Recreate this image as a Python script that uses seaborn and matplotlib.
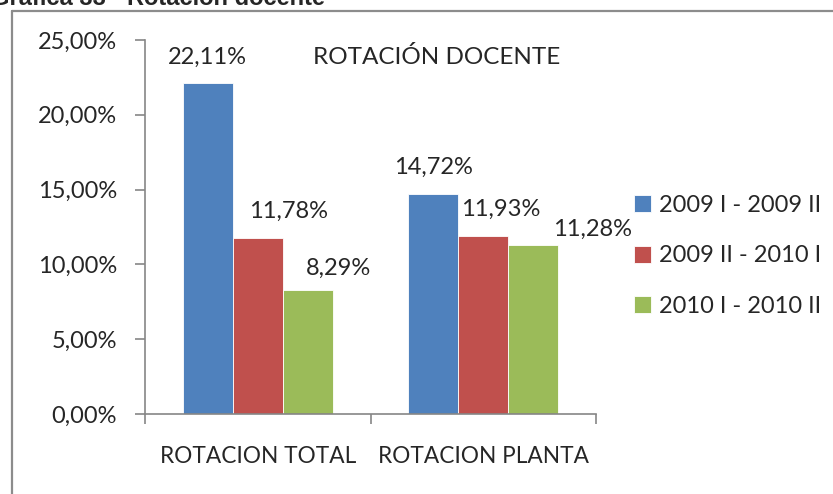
import matplotlib
matplotlib.use("Agg")
import matplotlib.pyplot as plt
from matplotlib.lines import Line2D
from matplotlib.ticker import FixedLocator, FuncFormatter
import pandas as pd
import seaborn as sns

# datos de la grafica
categorias = ["ROTACION TOTAL", "ROTACION PLANTA"]
periodos = ["2009 I - 2009 II", "2009 II - 2010 I", "2010 I - 2010 II"]
rot_2009_1 = [22.11, 14.72]
rot_2009_2 = [11.78, 11.93]
rot_2010_1 = [8.29, 11.28]
colores = ["#4F81BD", "#C0504D", "#9BBB59"]

df = pd.DataFrame({
    "categoria": categorias * 3,
    "periodo": [p for p in periodos for _ in categorias],
    "valor": rot_2009_1 + rot_2009_2 + rot_2010_1,
})

sns.set_style("white")
plt.rcParams["font.family"] = ["Lato", "DejaVu Sans"]

fig = plt.figure(figsize=(8.33, 4.94), dpi=100)
ax = fig.add_axes([145 / 833, 1 - 414 / 494, (596 - 145) / 833, (414 - 40) / 494])

sns.barplot(data=df, x="categoria", y="valor", hue="periodo", hue_order=periodos,
            palette=colores, width=0.667, saturation=1, ax=ax, legend=True,
            edgecolor="white", linewidth=0.6)

ax.set_ylim(0, 25)
ax.set_xlim(-0.5, 1.5)
ax.set_yticks([0, 5, 10, 15, 20, 25])
ax.yaxis.set_major_formatter(FuncFormatter(lambda v, p: f"{v:.2f}".replace(".", ",") + "%"))
ax.tick_params(axis="y", labelsize=17, length=7, width=1.2, color="#868686", pad=13, left=True)

# marcas entre categorias, etiquetas en el centro
ax.xaxis.set_major_locator(FixedLocator([-0.5, 0.5, 1.5]))
ax.xaxis.set_minor_locator(FixedLocator([0, 1]))
ax.set_xticklabels([], minor=False)
ax.set_xticklabels(categorias, minor=True)
ax.tick_params(axis="x", which="major", length=7, width=1.2, color="#868686", bottom=True)
ax.tick_params(axis="x", which="minor", length=0, labelsize=16.3, pad=23)
ax.set_xlabel("")
ax.set_ylabel("")

sns.despine(ax=ax)
for s in ["left", "bottom"]:
    ax.spines[s].set_color("#868686")
    ax.spines[s].set_linewidth(1.2)

# etiquetas de datos (desplazamientos en pixeles)
desplaz = [[(0, 26), (0, 26)], [(31, 26), (17, 26)], [(31, 22), (59, 16)]]
for cont, offs in zip(ax.containers, desplaz):
    for bar, (dx, dy) in zip(cont, offs):
        v = bar.get_height()
        ax.annotate(f"{v:.2f}".replace(".", ",") + "%",
                    (bar.get_x() + bar.get_width() / 2, v),
                    xytext=(dx, dy), textcoords="offset pixels",
                    ha="center", va="center", fontsize=17, annotation_clip=False)

fig.text(437 / 833, 1 - 57 / 494, "ROTACIÓN DOCENTE", ha="center", va="center", fontsize=17.5)

ax.legend(loc="center left", bbox_to_anchor=(634 / 833, 1 - 256 / 494),
          bbox_transform=fig.transFigure, frameon=False, fontsize=17,
          handlelength=0.7, handleheight=0.7, handletextpad=0.35, labelspacing=1.25,
          borderaxespad=0, borderpad=0)

# marco exterior y titulo cortado
fig.add_artist(Line2D([12 / 833, 12 / 833], [0, 1 - 11 / 494], color="#8c8c8c", lw=1.6))
fig.add_artist(Line2D([12 / 833, 1], [1 - 11 / 494, 1 - 11 / 494], color="#8c8c8c", lw=1.6))
fig.text(325 / 833, 1 - 5 / 494, "Gráfica 33 - Rotación docente", ha="right", va="baseline",
         fontsize=17, fontweight="bold", family=["Liberation Sans", "DejaVu Sans"])

fig.savefig("out.png", dpi=100)
